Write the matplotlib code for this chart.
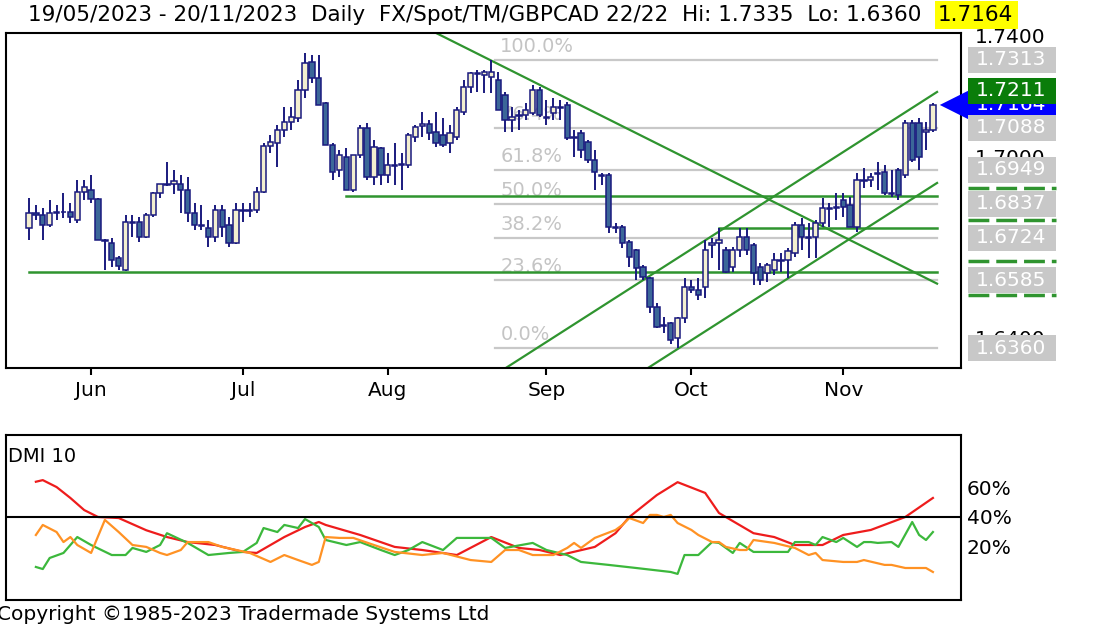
import numpy as np
import pandas as pd
import matplotlib
matplotlib.use('Agg')
import matplotlib.pyplot as plt
import matplotlib.transforms as mtransforms
from matplotlib.patches import Rectangle, Polygon

plt.rcParams['font.family'] = ['DejaVu Sans']

# daily GBPCAD bars 19/05/2023 - 20/11/2023
days = pd.bdate_range('2023-05-19', '2023-11-20')

opens = [1.6757, 1.6807, 1.6800, 1.6767, 1.6807, 1.6810, 1.6810, 1.6784, 1.6876, 1.6883,
         1.6853, 1.6717, 1.6707, 1.6658, 1.6618, 1.6777, 1.6777, 1.6727, 1.6800, 1.6873,
         1.6903, 1.6903, 1.6903, 1.6883, 1.6807, 1.6767, 1.6757, 1.6727, 1.6817, 1.6767,
         1.6707, 1.6817, 1.6814, 1.6817, 1.6876, 1.7028, 1.7038, 1.7081, 1.7108, 1.7121,
         1.7214, 1.7306, 1.7253, 1.7171, 1.7032, 1.6949, 1.6992, 1.6883, 1.6999, 1.7088,
         1.6926, 1.7022, 1.6932, 1.6965, 1.6965, 1.6965, 1.7058, 1.7095, 1.7101, 1.7075,
         1.7065, 1.7038, 1.7058, 1.7141, 1.7224, 1.7270, 1.7263, 1.7257, 1.7247, 1.7197,
         1.7114, 1.7131, 1.7131, 1.7138, 1.7214, 1.7124, 1.7138, 1.7157, 1.7164, 1.7058,
         1.7071, 1.7042, 1.6982, 1.6932, 1.6932, 1.6760, 1.6760, 1.6711, 1.6684, 1.6628,
         1.6591, 1.6496, 1.6436, 1.6443, 1.6393, 1.6459, 1.6562, 1.6552, 1.6562, 1.6701,
         1.6707, 1.6684, 1.6628, 1.6684, 1.6727, 1.6701, 1.6628, 1.6608, 1.6618, 1.6651,
         1.6651, 1.6674, 1.6767, 1.6727, 1.6727, 1.6774, 1.6823, 1.6826, 1.6850, 1.6833,
         1.6760, 1.6916, 1.6916, 1.6939, 1.6942, 1.6873, 1.6949, 1.6932, 1.7104, 1.7104,
         1.7075, 1.7081]
highs = [1.6856, 1.6833, 1.6823, 1.6850, 1.6833, 1.6873, 1.6840, 1.6916, 1.6916, 1.6932,
         1.6856, 1.6720, 1.6724, 1.6664, 1.6800, 1.6800, 1.6793, 1.6807, 1.6876, 1.6903,
         1.6975, 1.6949, 1.6932, 1.6926, 1.6840, 1.6833, 1.6784, 1.6833, 1.6833, 1.6793,
         1.6840, 1.6840, 1.6840, 1.6893, 1.7038, 1.7065, 1.7098, 1.7157, 1.7157, 1.7247,
         1.7335, 1.7330, 1.7330, 1.7174, 1.7038, 1.7015, 1.7022, 1.6999, 1.7098, 1.7104,
         1.7048, 1.7025, 1.7005, 1.7038, 1.7005, 1.7071, 1.7098, 1.7141, 1.7114, 1.7141,
         1.7121, 1.7098, 1.7157, 1.7247, 1.7273, 1.7280, 1.7280, 1.7313, 1.7273, 1.7207,
         1.7157, 1.7148, 1.7171, 1.7230, 1.7224, 1.7181, 1.7187, 1.7181, 1.7174, 1.7081,
         1.7081, 1.7048, 1.7015, 1.6939, 1.6939, 1.6774, 1.6767, 1.6717, 1.6687, 1.6635,
         1.6595, 1.6509, 1.6462, 1.6446, 1.6462, 1.6591, 1.6585, 1.6591, 1.6717, 1.6724,
         1.6757, 1.6694, 1.6694, 1.6757, 1.6757, 1.6707, 1.6641, 1.6641, 1.6674, 1.6674,
         1.6691, 1.6777, 1.6790, 1.6774, 1.6784, 1.6856, 1.6840, 1.6873, 1.6873, 1.6860,
         1.6939, 1.6956, 1.6939, 1.6975, 1.6965, 1.6949, 1.6956, 1.7114, 1.7114, 1.7121,
         1.7108, 1.7171]
lows = [1.6717, 1.6784, 1.6717, 1.6760, 1.6784, 1.6790, 1.6774, 1.6774, 1.6850, 1.6840,
        1.6717, 1.6618, 1.6628, 1.6618, 1.6614, 1.6727, 1.6711, 1.6724, 1.6793, 1.6856,
        1.6896, 1.6869, 1.6807, 1.6777, 1.6751, 1.6751, 1.6694, 1.6711, 1.6727, 1.6694,
        1.6704, 1.6777, 1.6793, 1.6807, 1.6873, 1.7005, 1.6959, 1.7058, 1.7081, 1.7108,
        1.7187, 1.7237, 1.7164, 1.7032, 1.6916, 1.6926, 1.6883, 1.6876, 1.6989, 1.6916,
        1.6899, 1.6899, 1.6906, 1.6899, 1.6883, 1.6956, 1.7042, 1.7058, 1.7048, 1.7025,
        1.7025, 1.7005, 1.7048, 1.7131, 1.7204, 1.7207, 1.7204, 1.7204, 1.7148, 1.7075,
        1.7075, 1.7081, 1.7114, 1.7131, 1.7124, 1.7098, 1.7114, 1.7114, 1.7048, 1.6992,
        1.6989, 1.6972, 1.6883, 1.6899, 1.6740, 1.6740, 1.6691, 1.6628, 1.6585, 1.6585,
        1.6476, 1.6426, 1.6409, 1.6373, 1.6360, 1.6443, 1.6542, 1.6519, 1.6525, 1.6658,
        1.6618, 1.6608, 1.6611, 1.6661, 1.6668, 1.6568, 1.6568, 1.6578, 1.6601, 1.6611,
        1.6591, 1.6661, 1.6684, 1.6658, 1.6658, 1.6760, 1.6760, 1.6784, 1.6793, 1.6760,
        1.6744, 1.6889, 1.6893, 1.6883, 1.6866, 1.6860, 1.6850, 1.6922, 1.6975, 1.6949,
        1.7015, 1.7075]
closes = [1.6807, 1.6800, 1.6767, 1.6807, 1.6810, 1.6810, 1.6793, 1.6876, 1.6893, 1.6853,
          1.6717, 1.6714, 1.6651, 1.6631, 1.6777, 1.6774, 1.6727, 1.6800, 1.6873, 1.6903,
          1.6900, 1.6913, 1.6883, 1.6807, 1.6767, 1.6764, 1.6727, 1.6817, 1.6760, 1.6707,
          1.6817, 1.6814, 1.6817, 1.6876, 1.7028, 1.7042, 1.7081, 1.7108, 1.7124, 1.7214,
          1.7303, 1.7253, 1.7164, 1.7032, 1.6942, 1.6999, 1.6883, 1.6999, 1.7088, 1.6926,
          1.7025, 1.6932, 1.6965, 1.6962, 1.6968, 1.7065, 1.7091, 1.7101, 1.7071, 1.7038,
          1.7032, 1.7071, 1.7148, 1.7224, 1.7270, 1.7267, 1.7273, 1.7273, 1.7148, 1.7114,
          1.7124, 1.7128, 1.7148, 1.7214, 1.7131, 1.7121, 1.7157, 1.7154, 1.7055, 1.7055,
          1.7015, 1.6982, 1.6942, 1.6929, 1.6760, 1.6757, 1.6707, 1.6661, 1.6625, 1.6595,
          1.6496, 1.6429, 1.6433, 1.6386, 1.6459, 1.6562, 1.6552, 1.6535, 1.6684, 1.6707,
          1.6717, 1.6611, 1.6684, 1.6727, 1.6684, 1.6608, 1.6585, 1.6635, 1.6651, 1.6648,
          1.6681, 1.6767, 1.6727, 1.6724, 1.6774, 1.6823, 1.6820, 1.6823, 1.6826, 1.6760,
          1.6916, 1.6913, 1.6926, 1.6936, 1.6873, 1.6870, 1.6866, 1.7104, 1.6982, 1.6992,
          1.7081, 1.7164]

# fibonacci retracement between the August high and the October low
fib_hi = 1.7313
fib_lo = 1.6360
fib_pcts = [100.0, 76.4, 61.8, 50.0, 38.2, 23.6, 0.0]
fib_prices = [1.7313, 1.7088, 1.6949, 1.6837, 1.6724, 1.6585, 1.6360]
fib_start = 67

# green support/trend lines: (bar, price) end points
hlines_green = [(0, 1.6612), (46, 1.6863), (100, 1.6757)]
trend_lines = [((59.0, 1.7402), (131.6, 1.6573)),
               ((69.1, 1.6294), (131.6, 1.7207)),
               ((89.7, 1.6294), (131.6, 1.6906))]
channel_value = 1.7211
edge_marks = [1.6889, 1.6784, 1.6648, 1.6535]
last_price = 1.7164
axis_prices = [1.64, 1.66, 1.70, 1.72, 1.74]

# DMI 10 (read at the line vertices)
adx_idx = [1, 2, 4, 6, 8, 10, 13, 17, 20, 23, 27, 31, 33, 37, 40, 42, 43, 48, 53, 57,
           62, 67, 71, 74, 77, 82, 85, 87, 91, 94, 98, 100, 105, 108, 111, 115, 118, 122, 127, 131]
adx_val = [63.9, 65, 60.3, 52.9, 44.7, 40, 39.3, 31, 26.4, 23, 21, 16.3, 15.6, 26.4, 33.2, 36.6, 34.6, 27.8, 19.7, 17.6,
           14.2, 26.4, 19, 17.6, 14.2, 19.7, 29, 40, 54.9, 63.6, 56.3, 42.7, 29, 26.4, 21, 21, 27.8, 31.2, 40, 52.9]
pdi_idx = [1, 2, 3, 5, 7, 9, 12, 14, 15, 17, 19, 20, 23, 26, 29, 31, 33, 34, 36, 37,
           39, 40, 42, 43, 46, 48, 51, 53, 55, 57, 60, 62, 65, 67, 69, 73, 75, 78, 80, 84,
           88, 93, 94, 95, 97, 99, 100, 102, 103, 105, 108, 110, 111, 113, 114, 115, 117, 118, 120, 121,
           122, 123, 125, 126, 128, 129, 130, 131]
pdi_val = [6.1, 4.7, 12.2, 15.6, 26.4, 21, 14.2, 14.2, 19, 16.3, 21, 29, 22.4, 14.2, 15.6, 16.3, 22.4, 32.5, 29.8, 34.6,
           32.5, 38.6, 33.2, 24.4, 21, 23, 17.6, 14.2, 17.6, 23, 17.6, 25.8, 25.8, 25.8, 19, 22.4, 17.6, 14.2, 9.5, 7.5,
           5.4, 2.7, 1.4, 14.2, 14.2, 23, 22.4, 15.6, 22.4, 16.3, 16.3, 16.3, 23, 23, 21, 26.4, 23, 25.8, 19.7, 23,
           23, 22.4, 23, 19.7, 36.6, 27.8, 24.4, 29.8]
mdi_idx = [1, 2, 4, 5, 6, 7, 9, 11, 13, 15, 17, 19, 20, 22, 23, 26, 28, 32, 35, 37,
           39, 41, 42, 43, 45, 47, 50, 53, 57, 60, 64, 67, 69, 71, 73, 76, 78, 79, 80, 82,
           85, 86, 87, 89, 90, 91, 92, 93, 94, 96, 97, 99, 100, 101, 103, 104, 105, 108, 111, 113,
           114, 115, 118, 120, 121, 124, 125, 127, 130, 131]
mdi_val = [27.8, 34.6, 29.8, 23, 26.4, 21, 15.6, 38, 29.8, 21, 19.7, 15.6, 14.2, 17.6, 23, 23, 19.7, 15.6, 9.5, 14.2,
           10.8, 7.5, 9.5, 26.4, 25.8, 25.8, 21, 16.3, 14.2, 15.6, 10.8, 9.5, 17.6, 17.6, 14.2, 14.2, 19, 22.4, 19, 25.8,
           31.2, 34.6, 39.3, 35.9, 41.4, 41.4, 40, 41.4, 35.9, 31.2, 27.8, 23, 23, 19.7, 17.6, 17.6, 24.4, 22.4, 19, 14.2,
           15.6, 10.8, 9.5, 9.5, 10.8, 7.5, 7.5, 5.4, 5.4, 2.7]

title = "19/05/2023 - 20/11/2023  Daily  FX/Spot/TM/GBPCAD 22/22  Hi: 1.7335  Lo: 1.6360"

# ---- layout (pixels of a 1110 x 633 picture) ----
W, H = 1110, 633
navy = '#1a1a7e'
up_col = '#f3efd0'
dn_col = '#3b6798'
green = '#2f942f'
fib_grey = '#c8c8c8'

fig = plt.figure(figsize=(W / 100, H / 100), dpi=100)
ax = fig.add_axes([6 / W, 1 - 368 / H, 955 / W, 335 / H])
ax2 = fig.add_axes([6 / W, 1 - 600 / H, 955 / W, 165 / H])

n = len(days)
xlim = (-3.33, 135.07)

# fib levels
for p in fib_pcts:
    lvl = fib_lo + (fib_hi - fib_lo) * p / 100
    ax.plot([fib_start + 0.5, 131.6], [lvl, lvl], color=fib_grey, lw=1.6, zorder=1)
    ax.text(fib_start + 1.3, lvl + 0.0044, '%.1f%%' % p, color='#c4c4c4', fontsize=14,
            va='center', ha='left', zorder=1)

# green lines
for x0, lvl in hlines_green:
    ax.plot([x0, 131.6], [lvl, lvl], color=green, lw=1.8, zorder=2)
for (xa, ya), (xb, yb) in trend_lines:
    ax.plot([xa, xb], [ya, yb], color=green, lw=1.6, zorder=2)

# candles
for i in range(n):
    o, h, l, c = opens[i], highs[i], lows[i], closes[i]
    ax.vlines(i, l, h, color=navy, lw=1.4, zorder=4)
    bottom = min(o, c)
    height = max(abs(c - o), 0.00012)
    face = up_col if c >= o else dn_col
    ax.add_patch(Rectangle((i - 0.38, bottom), 0.76, height, facecolor=face,
                           edgecolor=navy, lw=1.1, zorder=5))

ax.set_xlim(*xlim)
ax.set_ylim(1.6294, 1.7402)

month_pos = [i for i in range(1, n) if days[i].month != days[i - 1].month]
ax.set_xticks(month_pos)
ax.set_xticklabels([days[i].strftime('%b') for i in month_pos], fontsize=14.5)
ax.tick_params(axis='x', direction='out', length=5, width=1.5, pad=4, color='black')
ax.set_yticks([])
for s in ax.spines.values():
    s.set_linewidth(1.5)

# price scale on the right, mostly hidden behind the level boxes
trans = mtransforms.blended_transform_factory(ax.transAxes, ax.transData)
shift = mtransforms.ScaledTranslation(0, -4 / 100, fig.dpi_scale_trans)
for v in axis_prices:
    ax.text((975 - 6) / 955, v, '%.4f' % v, transform=trans + shift, fontsize=14.5,
            va='center', ha='left', clip_on=False, zorder=2)

bx0 = (968 - 6) / 955
bw = 88 / 955
bh = 0.0086


def price_box(val, face, z):
    ax.add_patch(Rectangle((bx0, val - bh / 2), bw, bh, transform=trans, facecolor=face,
                           edgecolor='none', clip_on=False, zorder=z))
    ax.text(bx0 + 8 / 955, val, '%.4f' % val, transform=trans, color='white', fontsize=14.5,
            va='center', ha='left', clip_on=False, zorder=z + 0.1)


for m in edge_marks:
    ax.plot([bx0, bx0 + bw], [m, m], transform=trans, color=green, lw=2.5,
            ls=(0, (6, 2)), clip_on=False, zorder=3)

price_box(last_price, '#0000ff', 6)
ax.add_patch(Polygon([(132.0, last_price), (136.2, last_price + 0.0048),
                      (136.2, last_price - 0.0048)], closed=True, facecolor='#0000ff',
                     edgecolor='none', clip_on=False, zorder=6))
for v in fib_prices:
    price_box(v, '#c8c8c8', 7)
price_box(channel_value, '#0a7d0a', 8)

# DMI panel
ax2.plot(adx_idx, adx_val, color='#ee1c1c', lw=1.6)
ax2.plot(pdi_idx, pdi_val, color='#3cb83c', lw=1.6)
ax2.plot(mdi_idx, mdi_val, color='#ff9224', lw=1.6)
ax2.axhline(40, color='black', lw=1.5)
ax2.set_xlim(*xlim)
ax2.set_ylim(-16.3, 95.6)
ax2.set_xticks([])
ax2.yaxis.tick_right()
ax2.set_yticks([20, 40, 60])
ax2.set_yticklabels(['20%', '40%', '60%'], fontsize=14.5)
ax2.tick_params(axis='y', length=0, pad=4)
for s in ax2.spines.values():
    s.set_linewidth(1.5)
ax2.text(2 / 955, 1 - 22 / 165, 'DMI 10', transform=ax2.transAxes, fontsize=14,
         va='center', ha='left')

# header
fig.text(28 / W, 1 - 15 / H, title, fontsize=15.5, va='center', ha='left')
fig.patches.append(Rectangle((935 / W, 1 - 29 / H), 83 / W, 28 / H, transform=fig.transFigure,
                             facecolor='#ffff00', edgecolor='none', figure=fig))
fig.text(938 / W, 1 - 15 / H, '%.4f' % last_price, fontsize=15.5, va='center', ha='left')

fig.text(-3 / W, 1 - 615 / H, 'Copyright \u00a91985-2023 Tradermade Systems Ltd', fontsize=14.5,
         va='center', ha='left')

fig.savefig('out.png', dpi=100)
